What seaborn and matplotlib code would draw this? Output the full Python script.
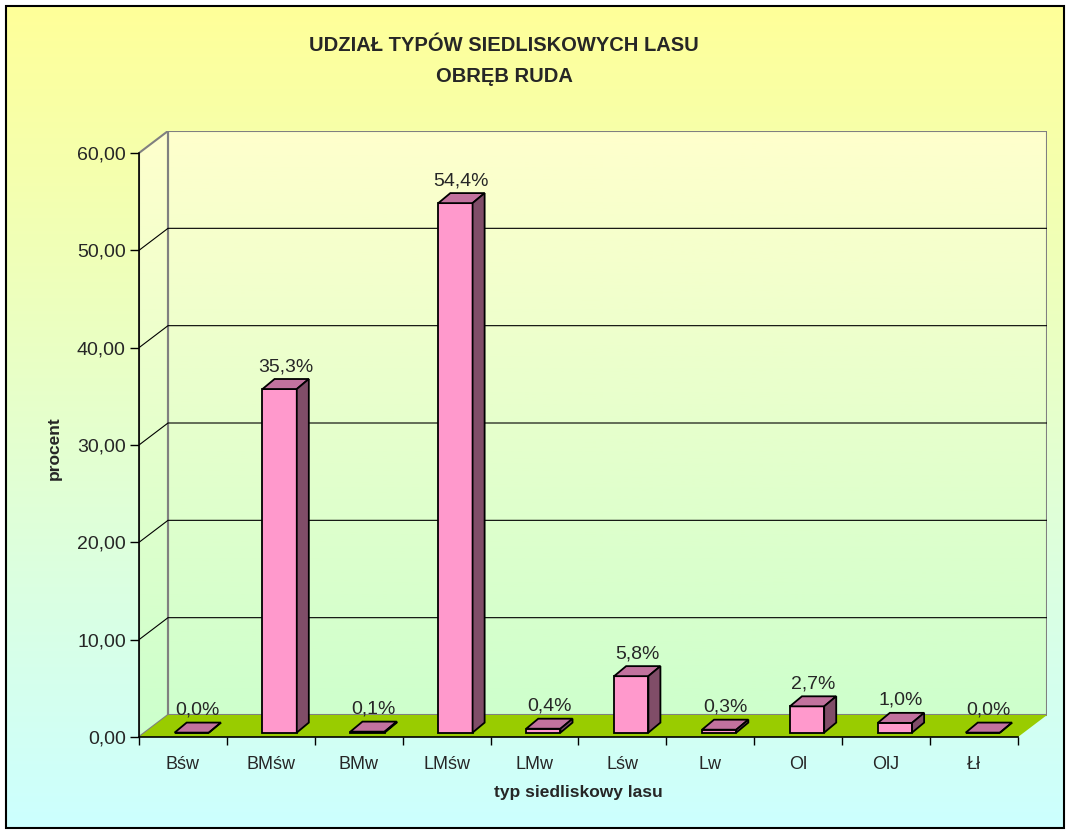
import numpy as np
import matplotlib
matplotlib.use('Agg')
import matplotlib.pyplot as plt
from matplotlib.patches import Polygon, Rectangle
from matplotlib.colors import LinearSegmentedColormap
import seaborn as sns

# data
categories = ['Bśw', 'BMśw', 'BMw', 'LMśw', 'LMw', 'Lśw', 'Lw', 'Ol', 'OlJ', 'Łł']
shares = [0.0, 35.3, 0.1, 54.4, 0.4, 5.8, 0.3, 2.7, 1.0, 0.0]
y_ticks = [0, 10, 20, 30, 40, 50, 60]

title = 'UDZIAŁ TYPÓW SIEDLISKOWYCH LASU\nOBRĘB RUDA'
x_label = 'typ siedliskowy lasu'
y_label = 'procent'

sns.set_style('ticks')
plt.rcParams['font.family'] = ['Liberation Sans', 'DejaVu Sans']

W, H = 1070, 834
fig = plt.figure(figsize=(W / 100, H / 100), dpi=100, facecolor='white')

# figure background gradient (yellow -> light cyan)
grad = np.linspace(0, 1, 256).reshape(-1, 1)
bg = fig.add_axes([0, 0, 1, 1], zorder=-10)
bg.axis('off')
bg_cmap = LinearSegmentedColormap.from_list('bg', ['#FFFF99', '#CCFFFF'])
bg.imshow(grad, aspect='auto', cmap=bg_cmap, origin='upper',
          extent=[6 / W, 1 - 6 / W, 6 / H, 1 - 6 / H])
bg.set_xlim(0, 1)
bg.set_ylim(0, 1)
fig.add_artist(Rectangle((6 / W, 6 / H), 1 - 12 / W, 1 - 12 / H, transform=fig.transFigure,
                         fill=False, edgecolor='black', lw=1.5))

# depth of the fake 3D box (data units)
dx, dy = 0.33, 2.26
ymax = 60

ax = fig.add_axes([139 / W, (H - 737) / H, (1047 - 139) / W, (737 - 131) / H])
ax.patch.set_alpha(0)

# bars first, keep the handles
sns.barplot(x=categories, y=shares, width=0.39, color='#FF99CC', saturation=1,
            edgecolor='black', linewidth=1.3, ax=ax, zorder=2)
bars = list(ax.patches)

# walls
wall_cmap = LinearSegmentedColormap.from_list('wall', ['#FFFFCC', '#CCFFCC'])
back = Polygon([(-0.5 + dx, dy), (9.5 + dx, dy), (9.5 + dx, ymax + dy), (-0.5 + dx, ymax + dy)],
               closed=True, facecolor='none', edgecolor='#808080', lw=1.5, zorder=0.6)
side = Polygon([(-0.5, 0), (-0.5 + dx, dy), (-0.5 + dx, ymax + dy), (-0.5, ymax)],
               closed=True, facecolor='none', edgecolor='#808080', lw=1.5, zorder=0.6)
for poly in (back, side):
    ax.add_patch(poly)
    im = ax.imshow(grad, aspect='auto', cmap=wall_cmap, origin='upper', zorder=0.5,
                   extent=[-0.5, 9.5 + dx, 0, ymax + dy])
    im.set_clip_path(poly)

# gridlines on side + back wall
for v in y_ticks[1:-1]:
    ax.plot([-0.5, -0.5 + dx, 9.5 + dx], [v, v + dy, v + dy], color='black', lw=0.8, zorder=0.7)

# floor
ax.add_patch(Polygon([(-0.5, 0), (9.5, 0), (9.5 + dx, dy), (-0.5 + dx, dy)],
                     closed=True, facecolor='#99CC00', edgecolor='none', zorder=0.8))

# 3D faces on the bars
ox, oy = 0.10, 0.45
bdx, bdy = 0.137, 1.03
for bar, val in zip(bars, shares):
    x0 = bar.get_x() + ox
    w = bar.get_width()
    h = bar.get_height()
    bar.set_x(x0)
    bar.set_y(oy)
    top = oy + h
    ax.add_patch(Polygon([(x0, top), (x0 + w, top), (x0 + w + bdx, top + bdy), (x0 + bdx, top + bdy)],
                         closed=True, facecolor='#C2729E', edgecolor='black', lw=1.3, zorder=2))
    ax.add_patch(Polygon([(x0 + w, oy), (x0 + w + bdx, oy + bdy), (x0 + w + bdx, top + bdy), (x0 + w, top)],
                         closed=True, facecolor='#804D68', edgecolor='black', lw=1.3, zorder=2))
    ax.text(x0 + (w + bdx) / 2, top + bdy + 0.4, f'{val:.1f}'.replace('.', ',') + '%',
            ha='center', va='bottom', fontsize=14, zorder=3)

ax.set_xlim(-0.5, 9.5 + dx)
ax.set_ylim(0, ymax + dy)

# axes
sns.despine(ax=ax)
ax.spines['left'].set_bounds(0, ymax)
ax.spines['bottom'].set_bounds(-0.5, 9.5)
for s in ('left', 'bottom'):
    ax.spines[s].set_color('black')
    ax.spines[s].set_linewidth(1.2)
    ax.spines[s].set_zorder(1.5)

ax.set_yticks(y_ticks)
ax.set_yticklabels([f'{v:.2f}'.replace('.', ',') for v in y_ticks])
ax.tick_params(axis='y', length=6.5, width=1, pad=3, labelsize=14, color='black')

ax.set_xticks(np.arange(-0.5, 10, 1))
ax.set_xticklabels([])
ax.set_xticks(np.arange(len(categories)), minor=True)
ax.set_xticklabels(categories, minor=True)
ax.tick_params(axis='x', which='major', length=6, width=1, color='black')
ax.tick_params(axis='x', which='minor', length=0, pad=14, labelsize=13)

ax.set_xlabel(x_label, fontweight='bold', fontsize=12.5)
ax.set_ylabel(y_label, fontweight='bold', fontsize=12.5)
ax.xaxis.set_label_coords((578 - 139) / 908, (737 - 785) / 606)
ax.yaxis.set_label_coords((62 - 139) / 908, (737 - 448) / 606)

fig.text(504 / W, 1 - 61 / H, title, ha='center', va='center', fontsize=14.5,
         fontweight='bold', linespacing=1.8)

fig.savefig('out.png', dpi=100, facecolor='white')
